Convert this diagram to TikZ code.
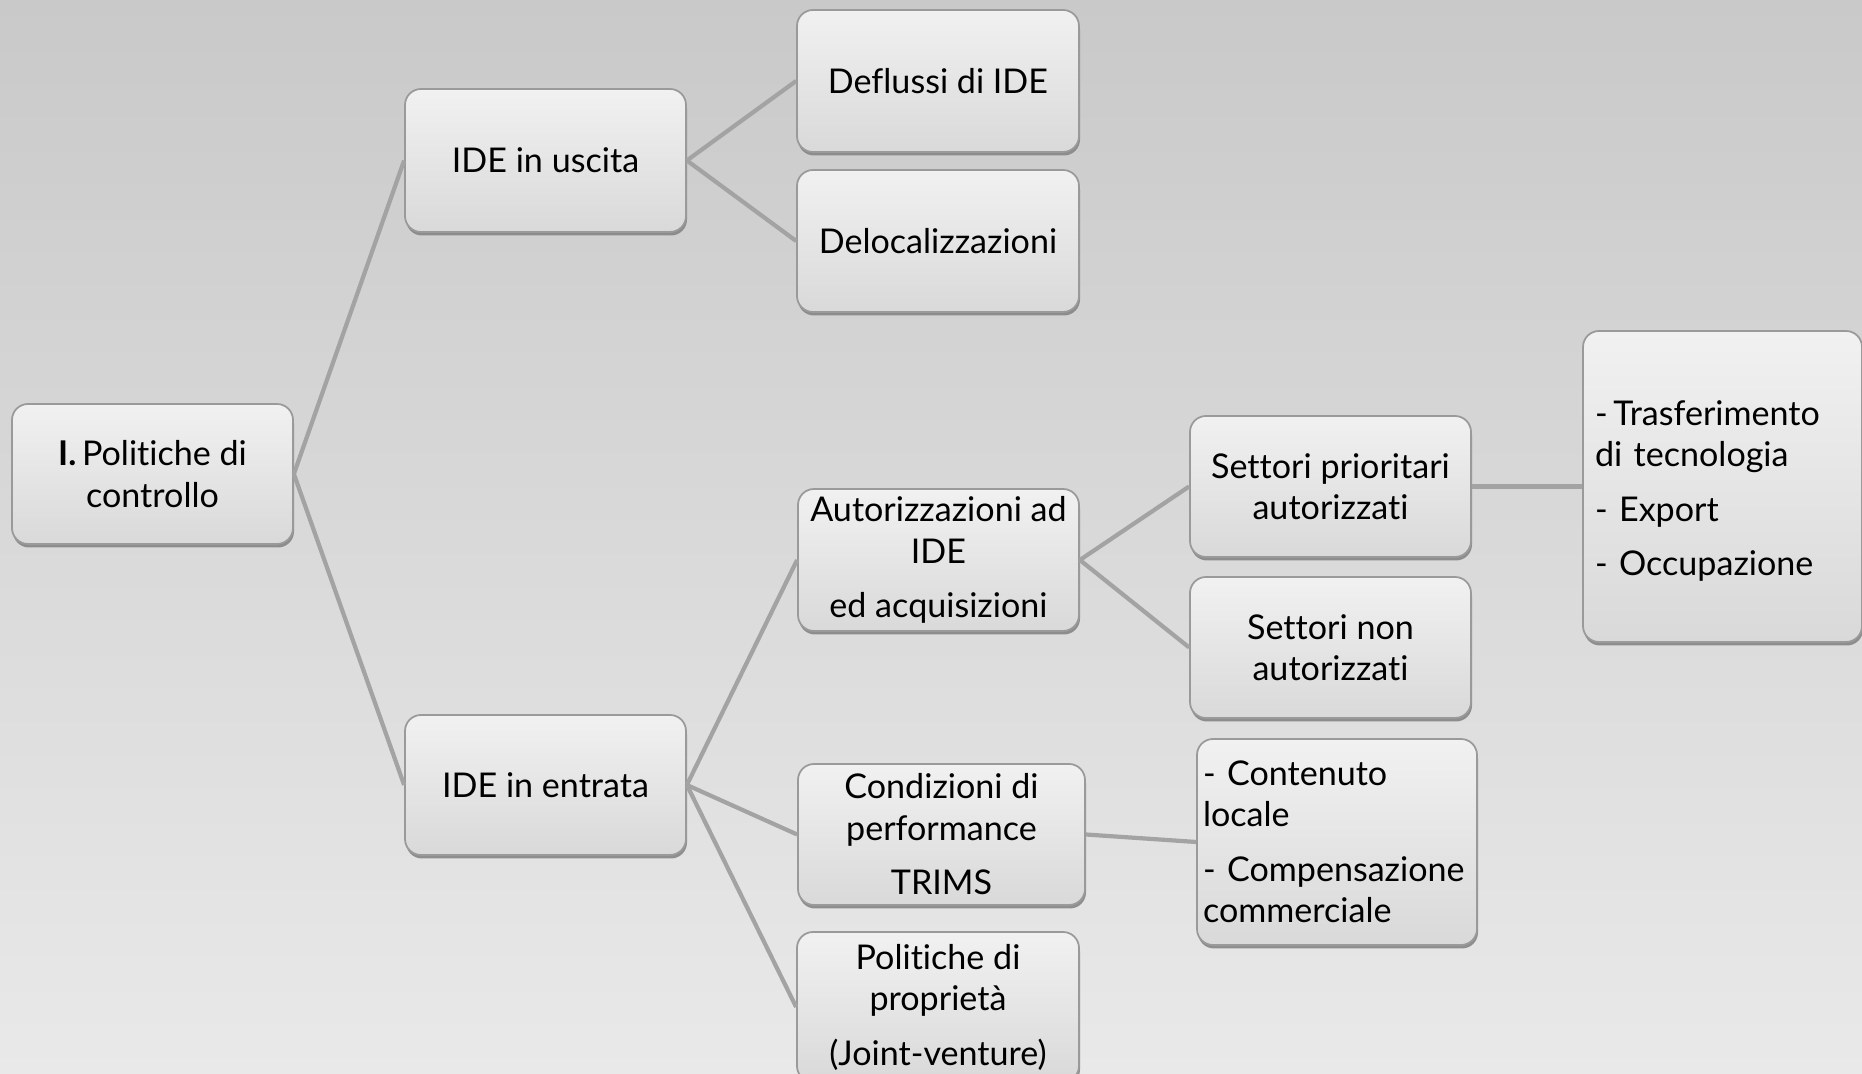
\documentclass[tikz,border=0pt]{standalone}
\usepackage{fontspec}
\setmainfont{Lato}[Ligatures=NoCommon]
\usetikzlibrary{shadows}
\definecolor{bgtop}{HTML}{C9C9C9}
\definecolor{bgbot}{HTML}{E9E9E9}
\definecolor{boxtop}{HTML}{F1F1F1}
\definecolor{boxbot}{HTML}{D9D9D9}
\definecolor{boxline}{HTML}{9A9A9A}
\definecolor{shadowc}{HTML}{858585}
\definecolor{linkc}{HTML}{A3A3A3}
\newcommand{\boxfont}{\fontsize{9.7}{11.8}\selectfont}
\tikzset{
  box/.style={rectangle, rounded corners=1.6mm, draw=boxline, line width=0.5pt,
    top color=boxtop, bottom color=boxbot,
    drop shadow={shadow xshift=0.1mm, shadow yshift=-0.35mm, fill=shadowc, opacity=0.9},
    align=center, font=\boxfont, inner sep=0pt},
  leftbox/.style={box, align=left},
  link/.style={draw=linkc, line width=1.2pt},
}
\begin{document}
\begin{tikzpicture}[x=0.1mm,y=-0.1mm]
% page and background
\useasboundingbox (0,0) rectangle (1862,1074);
\shade[top color=bgtop, bottom color=bgbot] (0,0) rectangle (1862,1074);

% first level
\node[box, minimum width=281*0.1mm, minimum height=140*0.1mm] (root) at (152.5,474)
  {{\bfseries I.}\,Politiche di\\controllo};

% second level
\node[box, minimum width=281*0.1mm, minimum height=143*0.1mm] (ius) at (545.5,160.5) {IDE in uscita};
\node[box, minimum width=281*0.1mm, minimum height=140*0.1mm] (ient) at (545.5,785) {IDE in entrata};

% third level
\node[box, minimum width=282*0.1mm, minimum height=142*0.1mm] (defl) at (938,81) {Deflussi di IDE};
\node[box, minimum width=282*0.1mm, minimum height=142*0.1mm] (deloc) at (938,241) {Delocalizzazioni};
\node[box, minimum width=281*0.1mm, minimum height=142*0.1mm] (aut) at (938.5,560)
  {Autorizzazioni ad\\IDE\\[1.3mm]ed acquisizioni};
\node[box, minimum width=287*0.1mm, minimum height=141*0.1mm] (cond) at (941.5,834.5)
  {Condizioni di\\performance\\[1.3mm]TRIMS};
\node[box, minimum width=282*0.1mm, minimum height=150*0.1mm] (prop) at (938,1007)
  {Politiche di\\propriet\`a\\[1.3mm](Joint-venture)};

% fourth level
\node[box, minimum width=281*0.1mm, minimum height=141*0.1mm] (sprio) at (1330.5,486.5)
  {Settori prioritari\\autorizzati};
\node[box, minimum width=281*0.1mm, minimum height=141*0.1mm] (snon) at (1330.5,647.5)
  {Settori non\\autorizzati};
\node[leftbox, minimum width=280*0.1mm, minimum height=206*0.1mm, text width=268*0.1mm] (cont) at (1337,842)
  {-~Contenuto\\locale\\[1.3mm]-~Compensazione\\commerciale};

% fifth level
\node[leftbox, minimum width=279*0.1mm, minimum height=311*0.1mm, text width=255*0.1mm] (req) at (1722.5,486.5)
  {\rule{0pt}{3.4mm}-\,Trasferimento\\di tecnologia\\[1.3mm]-~Export\\[1.3mm]-~Occupazione};

% connectors
\draw[link] (root.east) -- (ius.west);
\draw[link] (root.east) -- (ient.west);
\draw[link] (ius.east) -- (defl.west);
\draw[link] (ius.east) -- (deloc.west);
\draw[link] (ient.east) -- (aut.west);
\draw[link] (ient.east) -- (cond.west);
\draw[link] (ient.east) -- (prop.west);
\draw[link] (aut.east) -- (sprio.west);
\draw[link] (aut.east) -- (snon.west);
\draw[link] (sprio.east) -- (req.west |- sprio.east);
\draw[link] (cond.east) -- (cont.west);
\end{tikzpicture}
\end{document}
